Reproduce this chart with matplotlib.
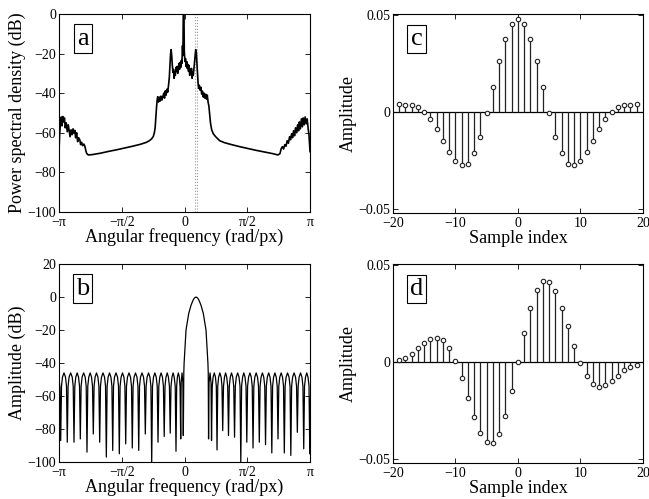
import numpy as np
import matplotlib
matplotlib.use("Agg")
import matplotlib.pyplot as plt

plt.rcParams['font.family'] = ['Liberation Serif', 'DejaVu Serif']

############## Data ##############

# (a) power spectral density, x in rad/px, y in dB
psd_w = [-3.1416, -3.125, -3.105, -3.085, -3.065, -3.045, -3.025, -3.005, -2.985, -2.960,
         -2.935, -2.910, -2.890, -2.865, -2.840, -2.815, -2.790, -2.765, -2.745, -2.725,
         -2.700, -2.675, -2.650, -2.620, -2.600, -2.575, -2.550, -2.520, -2.495, -2.470,
         -2.450, -2.410, -2.300, -2.100, -1.900, -1.700, -1.500, -1.300, -1.100, -0.950,
         -0.880, -0.820, -0.780, -0.755, -0.735, -0.720, -0.700, -0.685, -0.670, -0.650,
         -0.630, -0.610, -0.590, -0.565, -0.545, -0.520, -0.500, -0.480, -0.460, -0.440,
         -0.420, -0.400, -0.380, -0.365, -0.350, -0.335, -0.320, -0.305, -0.290, -0.275,
         -0.260, -0.245, -0.230, -0.215, -0.200, -0.185, -0.170, -0.155, -0.140, -0.125,
         -0.110, -0.095, -0.080, -0.065, -0.050, -0.040, -0.030, -0.015, -0.005, 0.010,
         0.025, 0.040, 0.055, 0.070, 0.085, 0.100, 0.115, 0.130, 0.145, 0.160,
         0.175, 0.190, 0.205, 0.220, 0.235, 0.250, 0.265, 0.280, 0.295, 0.310,
         0.325, 0.340, 0.355, 0.370, 0.390, 0.410, 0.430, 0.450, 0.470, 0.490,
         0.510, 0.530, 0.550, 0.570, 0.590, 0.610, 0.630, 0.650, 0.680, 0.720,
         0.780, 0.880, 1.000, 1.200, 1.400, 1.600, 1.800, 2.000, 2.200, 2.340,
         2.390, 2.420, 2.450, 2.480, 2.510, 2.540, 2.570, 2.600, 2.630, 2.655,
         2.680, 2.705, 2.730, 2.755, 2.780, 2.805, 2.830, 2.855, 2.875, 2.900,
         2.925, 2.950, 2.970, 2.995, 3.020, 3.045, 3.070, 3.095, 3.115, 3.130,
         3.1416]
psd_db = [-69.5, -60.5, -55.0, -52.0, -56.5, -51.8, -54.5, -52.5, -57.5, -55.0,
          -59.5, -56.0, -58.5, -62.0, -58.5, -61.0, -58.0, -60.3, -58.8, -62.5,
          -60.0, -64.5, -62.5, -63.6, -66.0, -64.8, -66.5, -65.7, -66.7, -69.0,
          -70.4, -71.2, -71.0, -70.3, -69.4, -68.6, -67.7, -66.8, -65.8, -64.8,
          -64.0, -63.0, -61.8, -60.0, -57.5, -53.0, -47.0, -43.5, -41.8, -44.5,
          -42.0, -44.0, -41.5, -43.5, -42.0, -40.0, -42.5, -38.8, -41.0, -38.0,
          -39.5, -36.0, -32.0, -26.5, -20.5, -18.0, -21.0, -26.0, -29.5, -28.0,
          -32.5, -29.5, -31.0, -27.0, -29.0, -26.5, -30.0, -27.5, -25.0, -28.0,
          -24.5, -27.0, -23.5, -25.0, -16.0, -21.0, 2.0, 2.0, -19.0, -24.0,
          -22.5, -26.5, -24.0, -27.5, -25.5, -29.0, -26.0, -31.0, -28.0, -30.5,
          -27.5, -32.5, -29.5, -31.0, -28.0, -24.5, -21.0, -18.0, -19.5, -25.0,
          -30.0, -35.0, -37.5, -36.0, -38.5, -37.0, -40.5, -39.0, -42.0, -40.0,
          -42.5, -40.5, -43.0, -41.0, -44.5, -46.5, -51.0, -55.0, -58.5, -60.5,
          -62.0, -64.0, -65.0, -66.1, -67.1, -68.0, -68.9, -69.7, -70.5, -71.2,
          -70.5, -68.0, -67.0, -68.2, -66.0, -66.8, -64.0, -65.3, -62.0, -63.5,
          -60.5, -62.5, -59.0, -61.5, -57.5, -60.0, -56.0, -59.0, -54.5, -58.0,
          -53.0, -57.0, -52.5, -56.0, -52.0, -55.5, -53.0, -58.0, -61.0, -66.0,
          -69.5]
passband_marks = [0.27, 0.32]

# (b) filter amplitude response, x in rad/px, y in dB (one sidelobe per row)
resp_w = [
    -3.1416, -3.118, -3.099,
    -3.079, -3.054, -3.0165, -2.979, -2.954, -2.934,
    -2.914, -2.889, -2.850, -2.811, -2.786, -2.766,
    -2.746, -2.721, -2.687, -2.653, -2.628, -2.608,
    -2.588, -2.563, -2.5245, -2.486, -2.461, -2.441,
    -2.421, -2.396, -2.362, -2.328, -2.303, -2.283,
    -2.263, -2.238, -2.203, -2.168, -2.143, -2.123,
    -2.103, -2.078, -2.040, -2.002, -1.977, -1.957,
    -1.937, -1.912, -1.877, -1.842, -1.817, -1.797,
    -1.777, -1.752, -1.7145, -1.677, -1.652, -1.632,
    -1.612, -1.587, -1.552, -1.517, -1.492, -1.472,
    -1.452, -1.427, -1.3895, -1.352, -1.327, -1.307,
    -1.287, -1.262, -1.2265, -1.191, -1.166, -1.146,
    -1.126, -1.101, -1.0635, -1.026, -1.001, -0.981,
    -0.961, -0.936, -0.901, -0.866, -0.841, -0.821,
    -0.801, -0.776, -0.742, -0.708, -0.683, -0.663,
    -0.643, -0.618, -0.5855, -0.553, -0.528, -0.508,
    -0.488, -0.463, -0.433, -0.403, -0.378, -0.358,
    -0.338, -0.313, -0.2855, -0.258, -0.233, -0.213,
    -0.196, -0.178, -0.154, -0.130, -0.112, -0.095,
    -0.084, -0.0625, -0.041, -0.030,
    -0.018, -0.010, 0.013, 0.038, 0.105, 0.163, 0.213, 0.250, 0.288,
    0.326, 0.363, 0.413, 0.471, 0.538, 0.563, 0.586, 0.594, 0.602,
    0.614, 0.639, 0.664, 0.676,
    0.694, 0.716, 0.745, 0.774, 0.796, 0.814,
    0.832, 0.854, 0.885, 0.916, 0.938, 0.956,
    0.976, 1.001, 1.0285, 1.056, 1.081, 1.101,
    1.121, 1.146, 1.1765, 1.207, 1.232, 1.252,
    1.272, 1.297, 1.3305, 1.364, 1.389, 1.409,
    1.429, 1.454, 1.484, 1.514, 1.539, 1.559,
    1.579, 1.604, 1.637, 1.670, 1.695, 1.715,
    1.735, 1.760, 1.7935, 1.827, 1.852, 1.872,
    1.892, 1.917, 1.950, 1.983, 2.008, 2.028,
    2.048, 2.073, 2.1065, 2.140, 2.165, 2.185,
    2.205, 2.230, 2.2625, 2.295, 2.320, 2.340,
    2.360, 2.385, 2.419, 2.453, 2.478, 2.498,
    2.518, 2.543, 2.5795, 2.616, 2.641, 2.661,
    2.681, 2.706, 2.7425, 2.779, 2.804, 2.824,
    2.844, 2.869, 2.904, 2.939, 2.964, 2.984,
    3.004, 3.029, 3.060, 3.091, 3.116, 3.136,
    3.1416]
resp_db = [
    -49.5, -55.0, -87.0,
    -54, -48.5, -46, -48.5, -54, -88.0,
    -54, -48.5, -46, -48.5, -54, -88.0,
    -54, -48.5, -46, -48.5, -54, -86.0,
    -54, -48.5, -46, -48.5, -54, -94.0,
    -54, -48.5, -46, -48.5, -54, -83.0,
    -54, -48.5, -46, -48.5, -54, -88.0,
    -54, -48.5, -46, -48.5, -54, -97.0,
    -54, -48.5, -46, -48.5, -54, -93.0,
    -54, -48.5, -46, -48.5, -54, -95.0,
    -54, -48.5, -46, -48.5, -54, -89.0,
    -54, -48.5, -46, -48.5, -54, -91.5,
    -54, -48.5, -46, -48.5, -54, -93.0,
    -54, -48.5, -46, -48.5, -54, -83.0,
    -54, -48.5, -46, -48.5, -54, -101.0,
    -54, -48.5, -46, -48.5, -54, -88.0,
    -54, -48.5, -46, -48.5, -54, -84.5,
    -54, -48.5, -46, -48.5, -54, -82.5,
    -54, -48.5, -46, -48.5, -54, -93.5,
    -54, -48.5, -46, -48.5, -54, -86.0,
    -52, -46, -52, -84.0,
    -46, -40, -30, -20, -10, -5, -2, -0.5, 0,
    -0.5, -2, -5, -10, -20, -30, -40, -46, -86.0,
    -52, -46, -52, -87.0,
    -54, -48.5, -46, -48.5, -54, -92.7,
    -54, -48.5, -46, -48.5, -54, -81.0,
    -54, -48.5, -46, -48.5, -54, -84.0,
    -54, -48.5, -46, -48.5, -54, -85.0,
    -54, -48.5, -46, -48.5, -54, -101.0,
    -54, -48.5, -46, -48.5, -54, -88.0,
    -54, -48.5, -46, -48.5, -54, -91.5,
    -54, -48.5, -46, -48.5, -54, -88.0,
    -54, -48.5, -46, -48.5, -54, -89.5,
    -54, -48.5, -46, -48.5, -54, -94.5,
    -54, -48.5, -46, -48.5, -54, -86.0,
    -54, -48.5, -46, -48.5, -54, -94.5,
    -54, -48.5, -46, -48.5, -54, -96.0,
    -54, -48.5, -46, -48.5, -54, -82.0,
    -54, -48.5, -46, -48.5, -54, -92.0,
    -54, -48.5, -46, -48.5, -54, -95.0,
    -62.0]

# (c), (d) filter taps
taps_n = list(range(-19, 20))
taps_re = [0.0040, 0.0035, 0.0035, 0.0026, 0.0002, -0.0036, -0.0087, -0.0148, -0.0205, -0.0250,
           -0.0274, -0.0264, -0.0212, -0.0125, -0.0005, 0.0130, 0.0264, 0.0377, 0.0453, 0.0479,
           0.0453, 0.0377, 0.0264, 0.0130, -0.0005, -0.0125, -0.0212, -0.0264, -0.0274, -0.0250,
           -0.0205, -0.0148, -0.0087, -0.0036, 0.0002, 0.0026, 0.0035, 0.0035, 0.0040]
taps_im = [0.0012, 0.0023, 0.0043, 0.0071, 0.0099, 0.0118, 0.0125, 0.0113, 0.0071, 0.0007,
           -0.0083, -0.0182, -0.0280, -0.0363, -0.0411, -0.0415, -0.0370, -0.0276, -0.0148, 0.0000,
           0.0149, 0.0280, 0.0372, 0.0417, 0.0411, 0.0365, 0.0281, 0.0184, 0.0085, -0.0005,
           -0.0071, -0.0111, -0.0125, -0.0118, -0.0095, -0.0069, -0.0042, -0.0023, -0.0012]

freq_ticks = [-np.pi, -np.pi / 2, 0, np.pi / 2, np.pi]
freq_labels = ['\u2212\u03c0', '\u2212\u03c0/2', '0', '\u03c0/2', '\u03c0']


############## Figure ##############

fig = plt.figure(figsize=(6.49, 4.99), dpi=100)
ax_a = fig.add_axes([0.0909, 0.5752, 0.3868, 0.3968])
ax_b = fig.add_axes([0.0909, 0.0741, 0.3868, 0.3968])
ax_c = fig.add_axes([0.6055, 0.5725, 0.3852, 0.3994])
ax_d = fig.add_axes([0.6055, 0.0715, 0.3852, 0.3994])

LABEL_FS = 13
TICK_FS = 10


def style(ax, letter):
    ax.tick_params(direction='in', top=True, right=True, length=3.5, width=0.6,
                   labelsize=TICK_FS)
    ax.tick_params(axis='x', pad=3)
    ax.tick_params(axis='y', pad=2)
    for s in ax.spines.values():
        s.set_linewidth(0.8)
    ax.text(0.094, 0.876, letter, transform=ax.transAxes, ha='center', va='center',
            fontsize=19, bbox=dict(boxstyle='square,pad=0.12', fc='white', ec='black', lw=0.8))


# (a)
for w in passband_marks:
    ax_a.axvline(w, color='#999999', ls=':', lw=0.8)
ax_a.plot(psd_w, psd_db, color='k', lw=1.2)
ax_a.set_xlim(-np.pi, np.pi)
ax_a.set_ylim(-100, 0)
ax_a.set_xticks(freq_ticks)
ax_a.set_xticklabels(freq_labels)
ax_a.set_yticks([-100, -80, -60, -40, -20, 0])
ax_a.set_xlabel('Angular frequency (rad/px)', fontsize=LABEL_FS, labelpad=-0.5)
ax_a.set_ylabel('Power spectral density (dB)', fontsize=LABEL_FS, labelpad=1)
style(ax_a, 'a')

# (b)
ax_b.plot(resp_w, resp_db, color='k', lw=0.9)
ax_b.set_xlim(-np.pi, np.pi)
ax_b.set_ylim(-100, 20)
ax_b.set_xticks(freq_ticks)
ax_b.set_xticklabels(freq_labels)
ax_b.set_yticks([-100, -80, -60, -40, -20, 0, 20])
ax_b.set_xlabel('Angular frequency (rad/px)', fontsize=LABEL_FS, labelpad=-0.5)
ax_b.set_ylabel('Amplitude (dB)', fontsize=LABEL_FS, labelpad=1)
style(ax_b, 'b')

# (c), (d)
for ax, taps, letter in [(ax_c, taps_re, 'c'), (ax_d, taps_im, 'd')]:
    ax.axhline(0, color='k', lw=0.9)
    ml, sl, bl = ax.stem(taps_n, taps, linefmt='k-', markerfmt='o', basefmt=' ')
    sl.set_linewidth(0.9)
    sl.set_color('#222222')
    ml.set_markersize(3.2)
    ml.set_markerfacecolor('white')
    ml.set_markeredgecolor('#222222')
    ml.set_markeredgewidth(0.8)
    ax.set_xlim(-20, 20)
    ax.set_ylim(-0.052, 0.0505)
    ax.set_xticks([-20, -10, 0, 10, 20])
    ax.set_yticks([-0.05, 0, 0.05])
    ax.set_yticklabels(['\u22120.05', '0', '0.05'])
    ax.set_xlabel('Sample index', fontsize=LABEL_FS, labelpad=-0.5)
    ax.set_ylabel('Amplitude', fontsize=LABEL_FS, labelpad=1)
    style(ax, letter)

fig.savefig('out.png', dpi=100)
